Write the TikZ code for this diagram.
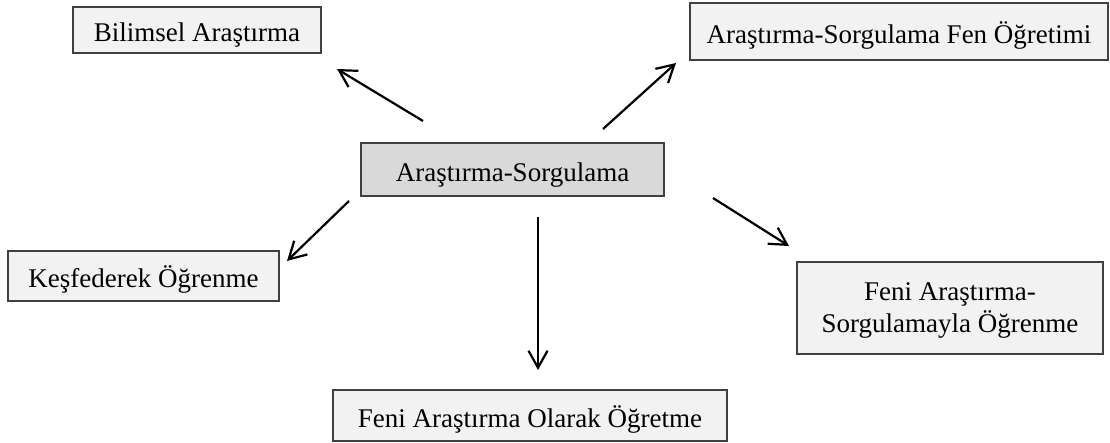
\documentclass[tikz,border=0pt]{standalone}
\usepackage{fontspec}
\setmainfont{Liberation Serif}
\usetikzlibrary{arrows.meta}
\definecolor{boxfill}{HTML}{F2F2F2}
\definecolor{hubfill}{HTML}{D9D9D9}
\definecolor{boxline}{HTML}{404040}
\tikzset{
  concept/.style={draw=boxline, line width=1.3pt, fill=boxfill, inner sep=0pt,
    font=\fontsize{27}{32}\selectfont, align=center, text height=24pt, text depth=0pt},
  % the box of a two-line text has the baseline of its last line
  twoline/.style={text height=62pt, text depth=14pt},
  hub/.style={concept, fill=hubfill},
  link/.style={line width=2.2pt, -{Straight Barb[length=17pt,width=19pt,line width=2.2pt]}}
}
\begin{document}
\begin{tikzpicture}[x=1pt,y=-1pt]
  \useasboundingbox (0,0) rectangle (1110,443);
  % concept boxes
  \node[concept, minimum width=248pt, minimum height=46pt] (bil) at (197,30) {Bilimsel Araştırma};
  \node[concept, minimum width=418pt, minimum height=57pt] (asf) at (899,31.5) {Araştırma-Sorgulama Fen Öğretimi};
  \node[hub, minimum width=303pt, minimum height=53pt] (as) at (512.5,169.5) {Araştırma-Sorgulama};
  \node[concept, minimum width=271pt, minimum height=50pt] (kes) at (143.5,276) {Keşfederek Öğrenme};
  \node[concept, twoline, minimum width=306pt, minimum height=92pt] (fas) at (950,308) {Feni Araştırma-\\Sorgulamayla Öğrenme};
  \node[concept, minimum width=394pt, minimum height=51pt] (fao) at (530,415.5) {Feni Araştırma Olarak Öğretme};
  % arrow end points
  \coordinate (s1) at (423,121); \coordinate (e1) at (337,69);
  \coordinate (s2) at (603,129); \coordinate (e2) at (676,63);
  \coordinate (s3) at (349,201); \coordinate (e3) at (287,261);
  \coordinate (s4) at (538,217); \coordinate (e4) at (538,370);
  \coordinate (s5) at (713,198); \coordinate (e5) at (789,246);
  % arrows from the central concept
  \draw[link] (s1) -- (e1);
  \draw[link] (s2) -- (e2);
  \draw[link] (s3) -- (e3);
  \draw[link] (s4) -- (e4);
  \draw[link] (s5) -- (e5);
\end{tikzpicture}
\end{document}
